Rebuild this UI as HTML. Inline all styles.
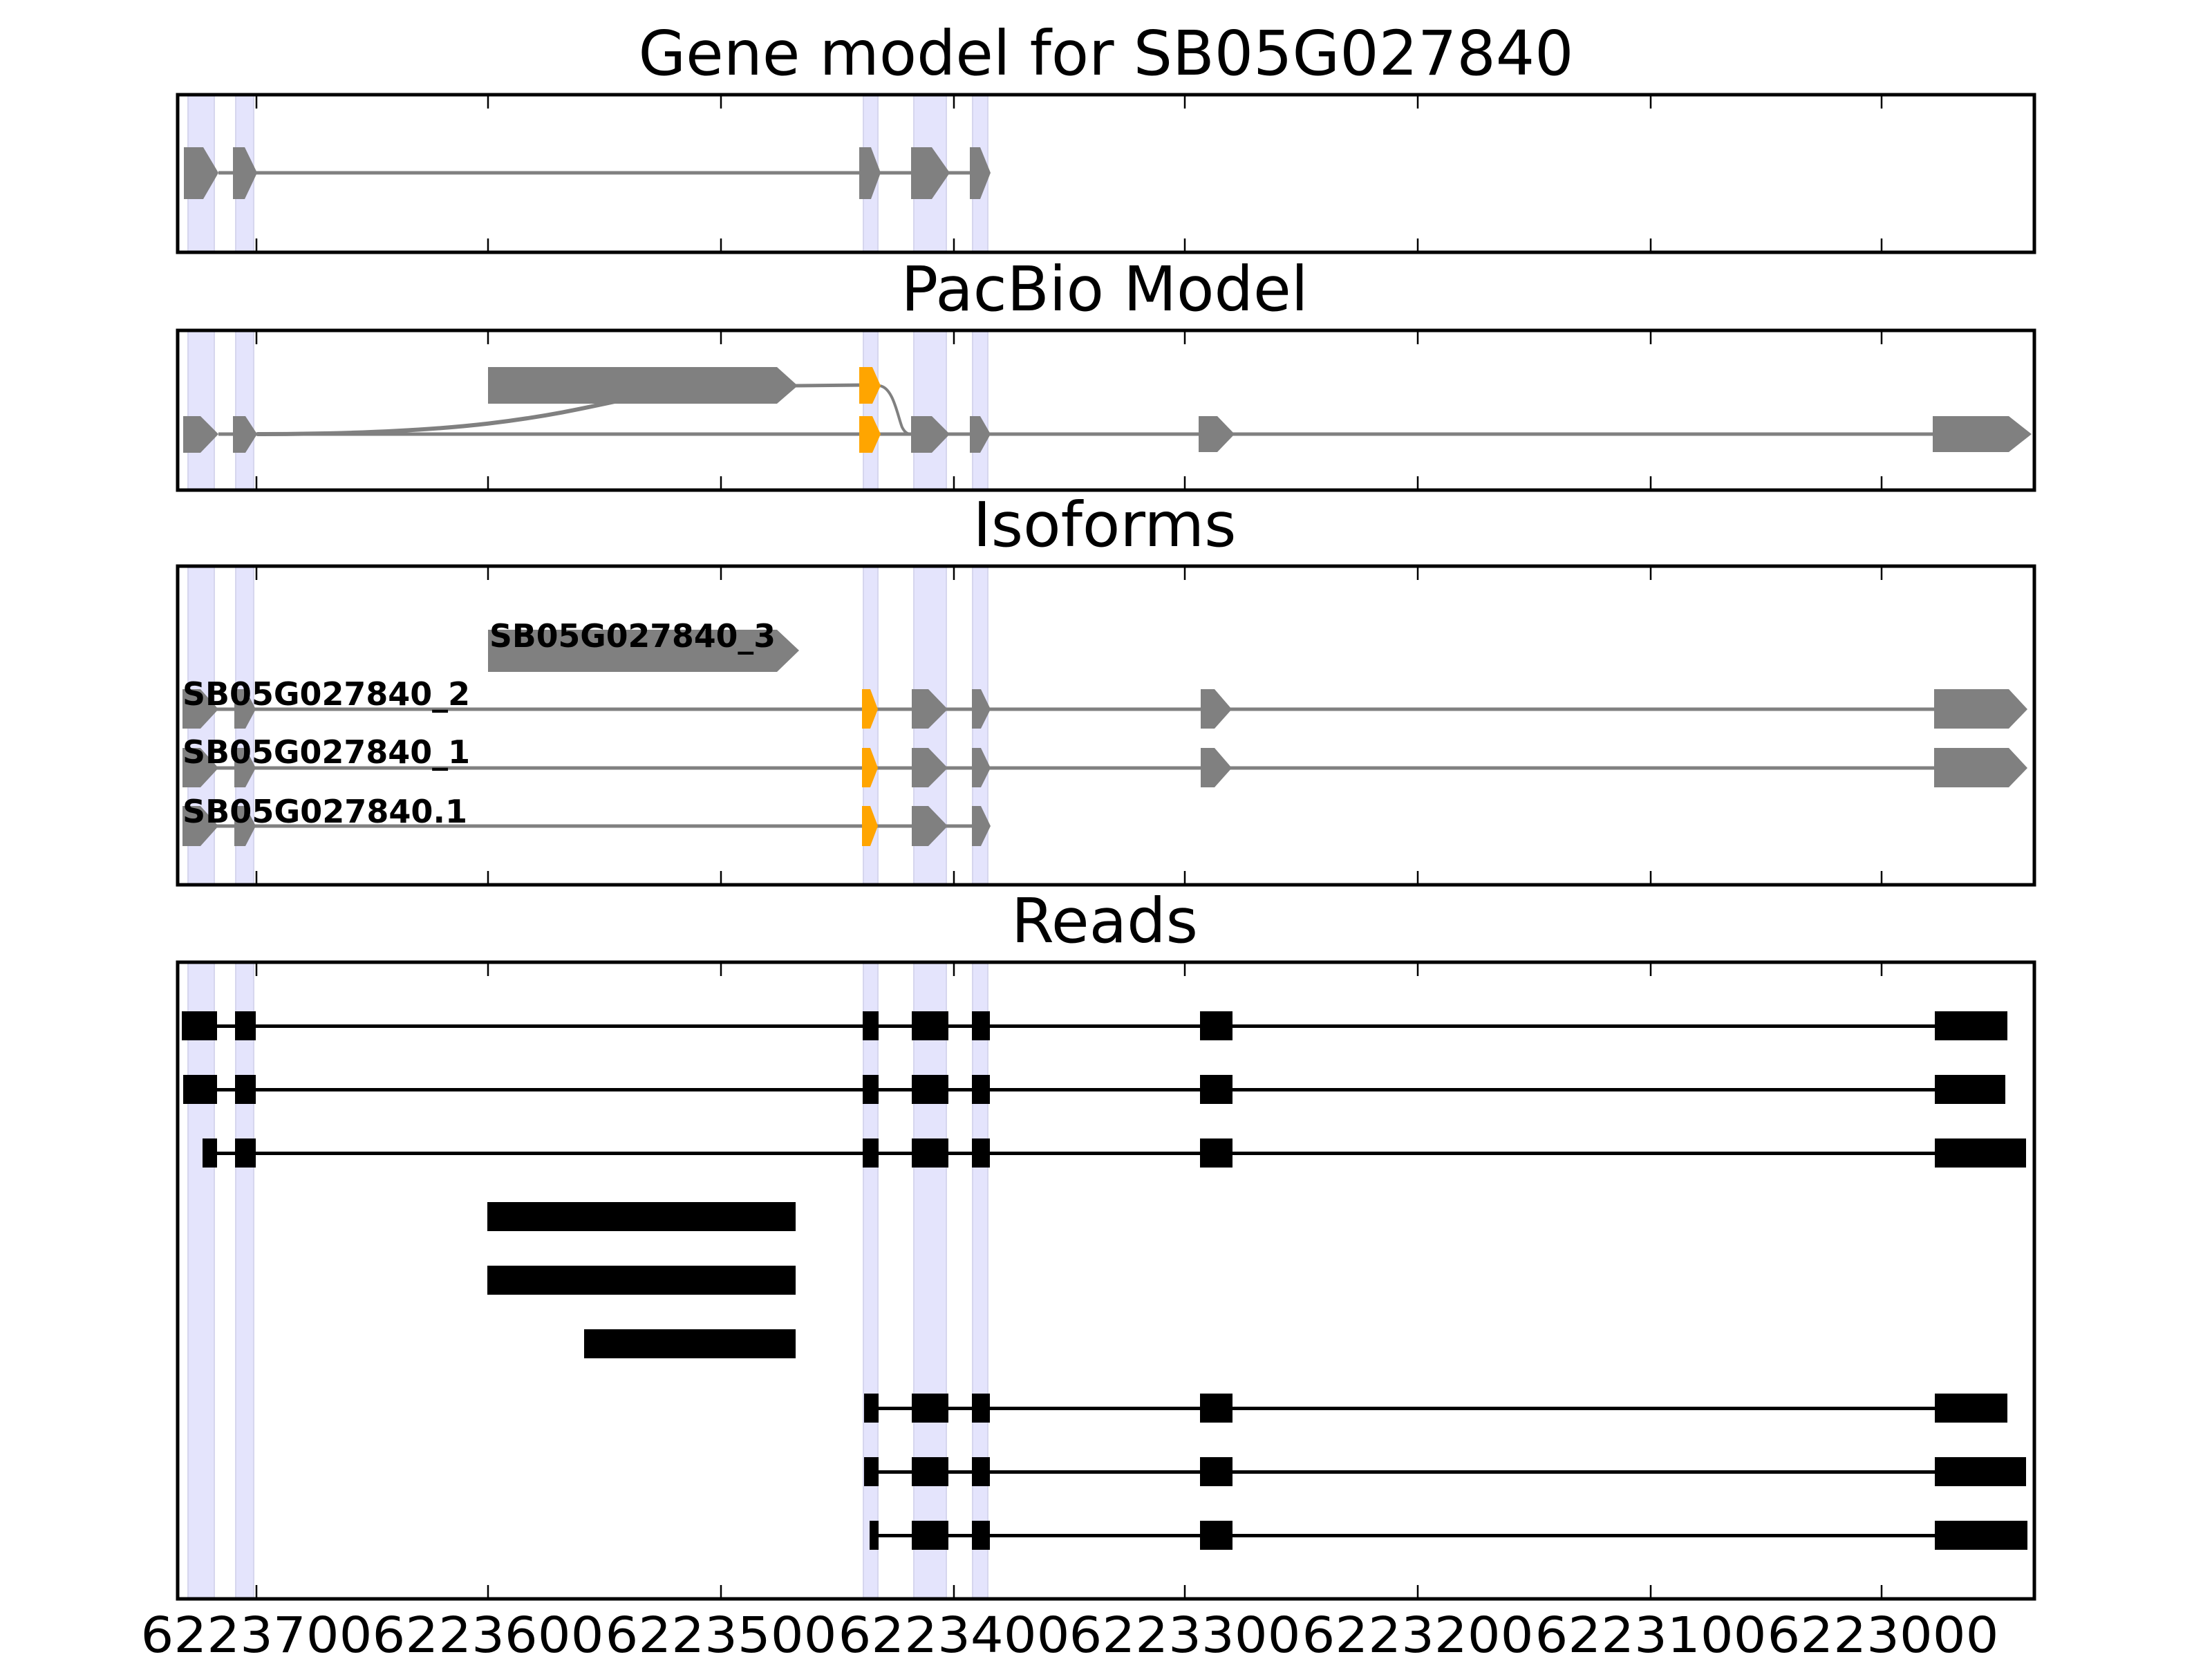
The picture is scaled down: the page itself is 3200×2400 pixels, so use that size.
<!DOCTYPE html>
<html><head><meta charset="utf-8"><style>html,body{margin:0;padding:0;background:#fff}svg{display:block}</style></head>
<body>
<svg width="3200" height="2400" viewBox="0 0 3200 2400" xmlns="http://www.w3.org/2000/svg" font-family="DejaVu Sans, Liberation Sans, sans-serif">
<rect width="3200" height="2400" fill="#fff"/>
<!-- Titles -->
<g font-size="89" text-anchor="middle" fill="#000">
<text x="1600" y="108" textLength="1353" lengthAdjust="spacingAndGlyphs">Gene model for SB05G027840</text>
<text x="1598" y="449">PacBio Model</text>
<text x="1598" y="790">Isoforms</text>
<text x="1598" y="1363">Reads</text>
</g>

<!-- highlight bands per panel -->
<g fill="#e4e4fc" stroke="#d6d6ee" stroke-width="2">
<rect x="272" y="137" width="38" height="228"/><rect x="341" y="137" width="26" height="228"/><rect x="1249" y="137" width="21" height="228"/><rect x="1322" y="137" width="47" height="228"/><rect x="1407" y="137" width="22" height="228"/>
<rect x="272" y="478" width="38" height="231"/><rect x="341" y="478" width="26" height="231"/><rect x="1249" y="478" width="21" height="231"/><rect x="1322" y="478" width="47" height="231"/><rect x="1407" y="478" width="22" height="231"/>
<rect x="272" y="819" width="38" height="461"/><rect x="341" y="819" width="26" height="461"/><rect x="1249" y="819" width="21" height="461"/><rect x="1322" y="819" width="47" height="461"/><rect x="1407" y="819" width="22" height="461"/>
<rect x="272" y="1392" width="38" height="921"/><rect x="341" y="1392" width="26" height="921"/><rect x="1249" y="1392" width="21" height="921"/><rect x="1322" y="1392" width="47" height="921"/><rect x="1407" y="1392" width="22" height="921"/>
</g>

<!-- Panel 1 -->
<g fill="#808080">
<line x1="316" y1="250" x2="1410" y2="250" stroke="#808080" stroke-width="5"/>
<polygon points="266,213 294,213 316,250 294,288 266,288"/>
<polygon points="337,213 354,213 372,250 354,288 337,288"/>
<polygon points="1243,213 1260,213 1274,250 1260,288 1243,288"/>
<polygon points="1318,213 1348,213 1374,250 1348,288 1318,288"/>
<polygon points="1403,213 1418,213 1433,250 1418,288 1403,288"/>
</g>

<!-- Panel 2 -->
<g fill="#808080">
<line x1="316" y1="628" x2="2800" y2="628" stroke="#808080" stroke-width="5"/>
<path d="M372,628 C700,628 800,600 940,570" fill="none" stroke="#808080" stroke-width="6"/>
<line x1="1150" y1="558" x2="1250" y2="557" stroke="#808080" stroke-width="5"/>
<path d="M1272,558 C1292,560 1298,600 1305,618 C1310,628 1315,628 1320,628" fill="none" stroke="#808080" stroke-width="4"/>
<polygon points="706,531 1124,531 1154,558 1124,584 706,584"/>
<polygon points="265,602 290,602 316,628 290,655 265,655"/>
<polygon points="337,602 355,602 372,628 355,655 337,655"/>
<polygon points="1318,602 1348,602 1374,628 1348,655 1318,655"/>
<polygon points="1403,602 1418,602 1433,628 1418,655 1403,655"/>
<polygon points="1734,602 1761,602 1786,628 1761,654 1734,654"/>
<polygon points="2796,602 2906,602 2939,628 2906,654 2796,654"/>
<polygon fill="#ffa500" points="1243,531 1262,531 1274,558 1262,584 1243,584"/>
<polygon fill="#ffa500" points="1243,602 1262,602 1274,628 1262,655 1243,655"/>
</g>

<!-- Panel 3 -->
<g fill="#808080" stroke="none">
<polygon points="706,911 1124,911 1156,941 1124,972 706,972"/>
<line x1="300" y1="1026" x2="2800" y2="1026" stroke="#808080" stroke-width="5"/>
<polygon points="264,997 290,997 316,1026 290,1054 264,1054"/>
<polygon points="339,997 355,997 370,1026 355,1054 339,1054"/>
<polygon points="1319,997 1343,997 1371,1026 1343,1054 1319,1054"/>
<polygon points="1406,997 1419,997 1433,1026 1419,1054 1406,1054"/>
<polygon points="1737,997 1757,997 1782,1026 1757,1054 1737,1054"/>
<polygon points="2798,997 2906,997 2933,1026 2906,1054 2798,1054"/>
<polygon fill="#ffa500" points="1247,997 1259,997 1270,1026 1259,1054 1247,1054"/>
<line x1="300" y1="1111" x2="2800" y2="1111" stroke="#808080" stroke-width="5"/>
<polygon points="264,1082 290,1082 316,1111 290,1139 264,1139"/>
<polygon points="339,1082 355,1082 370,1111 355,1139 339,1139"/>
<polygon points="1319,1082 1343,1082 1371,1111 1343,1139 1319,1139"/>
<polygon points="1406,1082 1419,1082 1433,1111 1419,1139 1406,1139"/>
<polygon points="1737,1082 1757,1082 1782,1111 1757,1139 1737,1139"/>
<polygon points="2798,1082 2906,1082 2933,1111 2906,1139 2798,1139"/>
<polygon fill="#ffa500" points="1247,1082 1259,1082 1270,1111 1259,1139 1247,1139"/>
<line x1="300" y1="1195" x2="1410" y2="1195" stroke="#808080" stroke-width="5"/>
<polygon points="264,1166 290,1166 316,1195 290,1224 264,1224"/>
<polygon points="339,1166 355,1166 370,1195 355,1224 339,1224"/>
<polygon points="1319,1166 1343,1166 1371,1195 1343,1224 1319,1224"/>
<polygon points="1406,1166 1419,1166 1433,1195 1419,1224 1406,1224"/>
<polygon fill="#ffa500" points="1247,1166 1259,1166 1270,1195 1259,1224 1247,1224"/>
</g>
<g font-size="46" font-weight="bold" fill="#000">
<text x="708" y="936" textLength="414" lengthAdjust="spacingAndGlyphs">SB05G027840_3</text>
<text x="264" y="1020" textLength="416" lengthAdjust="spacingAndGlyphs">SB05G027840_2</text>
<text x="264" y="1104" textLength="416" lengthAdjust="spacingAndGlyphs">SB05G027840_1</text>
<text x="264" y="1190" textLength="412" lengthAdjust="spacingAndGlyphs">SB05G027840.1</text>
</g>

<!-- Panel 4 reads -->
<g fill="#000" stroke="none">
<rect x="263" y="1482" width="2640" height="5"/>
<rect x="263" y="1463" width="51" height="42"/><rect x="340" y="1463" width="30" height="42"/><rect x="1248" y="1463" width="23" height="42"/><rect x="1319" y="1463" width="53" height="42"/><rect x="1406" y="1463" width="26" height="42"/><rect x="1736" y="1463" width="47" height="42"/><rect x="2799" y="1463" width="105" height="42"/>
<rect x="265" y="1574" width="2635" height="5"/>
<rect x="265" y="1555" width="49" height="42"/><rect x="340" y="1555" width="30" height="42"/><rect x="1248" y="1555" width="23" height="42"/><rect x="1319" y="1555" width="53" height="42"/><rect x="1406" y="1555" width="26" height="42"/><rect x="1736" y="1555" width="47" height="42"/><rect x="2799" y="1555" width="102" height="42"/>
<rect x="293" y="1666" width="2638" height="5"/>
<rect x="293" y="1647" width="21" height="42"/><rect x="340" y="1647" width="30" height="42"/><rect x="1248" y="1647" width="23" height="42"/><rect x="1319" y="1647" width="53" height="42"/><rect x="1406" y="1647" width="26" height="42"/><rect x="1736" y="1647" width="47" height="42"/><rect x="2799" y="1647" width="132" height="42"/>
<rect x="705" y="1739" width="446" height="42"/>
<rect x="705" y="1831" width="446" height="42"/>
<rect x="845" y="1923" width="306" height="42"/>
<rect x="1250" y="2035" width="1654" height="5"/>
<rect x="1250" y="2016" width="21" height="42"/><rect x="1319" y="2016" width="53" height="42"/><rect x="1406" y="2016" width="26" height="42"/><rect x="1736" y="2016" width="47" height="42"/><rect x="2799" y="2016" width="105" height="42"/>
<rect x="1250" y="2127" width="1681" height="5"/>
<rect x="1250" y="2108" width="21" height="42"/><rect x="1319" y="2108" width="53" height="42"/><rect x="1406" y="2108" width="26" height="42"/><rect x="1736" y="2108" width="47" height="42"/><rect x="2799" y="2108" width="132" height="42"/>
<rect x="1258" y="2219" width="1675" height="5"/>
<rect x="1258" y="2200" width="13" height="42"/><rect x="1319" y="2200" width="53" height="42"/><rect x="1406" y="2200" width="26" height="42"/><rect x="1736" y="2200" width="47" height="42"/><rect x="2799" y="2200" width="134" height="42"/>
</g>

<!-- Axes frames and ticks -->
<g fill="none" stroke="#000" stroke-width="5">
<rect x="257" y="137" width="2686" height="228"/>
<rect x="257" y="478" width="2686" height="231"/>
<rect x="257" y="819" width="2686" height="461"/>
<rect x="257" y="1392" width="2686" height="921"/>
</g>
<g stroke="#000" stroke-width="2.5">
<path d="M371,137v20M706,137v20M1043,137v20M1380,137v20M1714,137v20M2051,137v20M2388,137v20M2722,137v20
M371,365v-20M706,365v-20M1043,365v-20M1380,365v-20M1714,365v-20M2051,365v-20M2388,365v-20M2722,365v-20
M371,478v20M706,478v20M1043,478v20M1380,478v20M1714,478v20M2051,478v20M2388,478v20M2722,478v20
M371,709v-20M706,709v-20M1043,709v-20M1380,709v-20M1714,709v-20M2051,709v-20M2388,709v-20M2722,709v-20
M371,819v20M706,819v20M1043,819v20M1380,819v20M1714,819v20M2051,819v20M2388,819v20M2722,819v20
M371,1280v-20M706,1280v-20M1043,1280v-20M1380,1280v-20M1714,1280v-20M2051,1280v-20M2388,1280v-20M2722,1280v-20
M371,1392v20M706,1392v20M1043,1392v20M1380,1392v20M1714,1392v20M2051,1392v20M2388,1392v20M2722,1392v20
M371,2313v-20M706,2313v-20M1043,2313v-20M1380,2313v-20M1714,2313v-20M2051,2313v-20M2388,2313v-20M2722,2313v-20"/>
</g>
<g font-size="71" text-anchor="middle" fill="#000">
<text x="371" y="2390" textLength="335" lengthAdjust="spacingAndGlyphs">6223700</text>
<text x="706" y="2390" textLength="335" lengthAdjust="spacingAndGlyphs">6223600</text>
<text x="1043" y="2390" textLength="335" lengthAdjust="spacingAndGlyphs">6223500</text>
<text x="1380" y="2390" textLength="335" lengthAdjust="spacingAndGlyphs">6223400</text>
<text x="1714" y="2390" textLength="335" lengthAdjust="spacingAndGlyphs">6223300</text>
<text x="2051" y="2390" textLength="335" lengthAdjust="spacingAndGlyphs">6223200</text>
<text x="2388" y="2390" textLength="335" lengthAdjust="spacingAndGlyphs">6223100</text>
<text x="2724" y="2390" textLength="335" lengthAdjust="spacingAndGlyphs">6223000</text>
</g>
</svg>
</body></html>
